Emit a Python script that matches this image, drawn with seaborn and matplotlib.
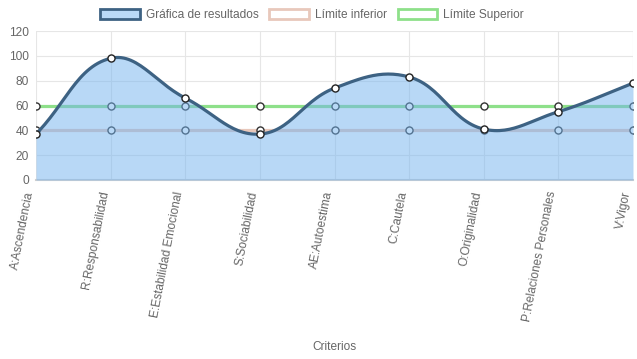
import numpy as np
import pandas as pd
import matplotlib
matplotlib.use("Agg")
import matplotlib.pyplot as plt
from matplotlib.patches import Patch
import seaborn as sns

# datos del grafico
criterios = ["A:Ascendencia", "R:Responsabilidad", "E:Estabilidad Emocional",
             "S:Sociabilidad", "AE:Autoestima", "C:Cautela", "O:Originalidad",
             "P:Relaciones Personales", "V:Vigor"]
resultados = [37, 98, 66, 37, 74, 83, 41, 55, 78]
limite_inferior = [40, 40, 40, 40, 40, 40, 40, 40, 40]
limite_superior = [60, 60, 60, 60, 60, 60, 60, 60, 60]

sns.set_theme(style="white")
plt.rcParams["font.family"] = ["Liberation Sans", "DejaVu Sans"]

GRIS = "#666666"
AZUL_LINEA = "#3d6283"
AZUL_RELLENO = (115/255, 179/255, 239/255, 0.5)
VERDE = "#8ee08a"
ROSA = "#e8c8bb"

fig = plt.figure(figsize=(6.37, 3.59), dpi=100)
ax = fig.add_axes([36/637, 1 - 180/359, (633 - 36)/637, (180 - 31)/359])

x = np.arange(len(criterios))


def curva_suave(xs, ys, tension=0.4, sx=74.6, sy=1.24, n=30):
    # curva tipo Chart.js (bezier con tension), distancias en pixeles
    px = np.array(xs, float) * sx
    py = np.array(ys, float) * sy
    cps = []
    for i in range(len(px)):
        p0 = (px[max(i-1, 0)], py[max(i-1, 0)])
        p1 = (px[i], py[i])
        p2 = (px[min(i+1, len(px)-1)], py[min(i+1, len(px)-1)])
        d01 = np.hypot(p1[0]-p0[0], p1[1]-p0[1])
        d12 = np.hypot(p2[0]-p1[0], p2[1]-p1[1])
        tot = d01 + d12
        s01 = d01/tot if tot else 0
        s12 = d12/tot if tot else 0
        fa, fb = tension*s01, tension*s12
        cps.append(((p1[0]-fa*(p2[0]-p0[0]), p1[1]-fa*(p2[1]-p0[1])),
                    (p1[0]+fb*(p2[0]-p0[0]), p1[1]+fb*(p2[1]-p0[1]))))
    outx, outy = [], []
    t = np.linspace(0, 1, n)
    for i in range(len(px)-1):
        a = (px[i], py[i]); b = cps[i][1]; c = cps[i+1][0]; d = (px[i+1], py[i+1])
        bx = (1-t)**3*a[0] + 3*(1-t)**2*t*b[0] + 3*(1-t)*t**2*c[0] + t**3*d[0]
        by = (1-t)**3*a[1] + 3*(1-t)**2*t*b[1] + 3*(1-t)*t**2*c[1] + t**3*d[1]
        outx.extend(bx / sx); outy.extend(by / sy)
    return np.array(outx), np.array(outy)


# limites (debajo)
df_lim = pd.DataFrame({"x": x, "inf": limite_inferior, "sup": limite_superior})
sns.lineplot(data=df_lim, x="x", y="sup", color=VERDE, lw=2.3, ax=ax, zorder=2)
sns.lineplot(data=df_lim, x="x", y="inf", color=ROSA, lw=2.3, ax=ax, zorder=2)
sns.scatterplot(data=df_lim, x="x", y="sup", color="white", edgecolor="#333333",
                s=26, linewidth=1.0, ax=ax, zorder=3)
sns.scatterplot(data=df_lim, x="x", y="inf", color="white", edgecolor="#333333",
                s=26, linewidth=1.0, ax=ax, zorder=3)

# resultados (encima, con relleno semitransparente)
cx, cy = curva_suave(x, resultados)
ax.fill_between(cx, 0, cy, color=AZUL_RELLENO, lw=0, zorder=4)
df_curva = pd.DataFrame({"x": cx, "y": cy})
sns.lineplot(data=df_curva, x="x", y="y", sort=False, estimator=None,
             color=AZUL_LINEA, lw=2.3, ax=ax, zorder=5)
df_res = pd.DataFrame({"x": x, "y": resultados})
sns.scatterplot(data=df_res, x="x", y="y", color="white", edgecolor="#222222",
                s=26, linewidth=1.0, ax=ax, zorder=6)

ax.set_xlim(0, len(criterios) - 1)
ax.set_ylim(0, 120)
ax.set_yticks(range(0, 121, 20))
ax.set_xticks(x)
ax.set_xticklabels(criterios, rotation=79, ha="right", va="bottom",
                   rotation_mode="anchor")
ax.tick_params(axis="x", colors=GRIS, labelsize=8.6, length=6, width=0.8,
               color="#e0e0e0", pad=3, labelcolor=GRIS)
ax.tick_params(axis="y", colors=GRIS, labelsize=8.6, length=0, pad=5, labelcolor=GRIS)
ax.grid(True, color="#e6e6e6", lw=0.8, zorder=0)
ax.set_axisbelow(True)
for lado in ["top", "right", "left"]:
    ax.spines[lado].set_visible(False)
ax.spines["bottom"].set_color("#d0d0d0")
ax.spines["bottom"].set_linewidth(1.5)
ax.set_ylabel("")
ax.set_xlabel("")
fig.text(334/637, 1 - 347/359, "Criterios", ha="center", va="center",
         color=GRIS, fontsize=8.6)

handles = [Patch(facecolor=(185/255, 217/255, 247/255), edgecolor=AZUL_LINEA, lw=2),
           Patch(facecolor="white", edgecolor=ROSA, lw=2),
           Patch(facecolor="white", edgecolor=VERDE, lw=2)]
fig.legend(handles, ["Gráfica de resultados", "Límite inferior", "Límite Superior"],
           loc="center", bbox_to_anchor=(312/637, 1 - 15/359), ncol=3, frameon=False,
           fontsize=8.6, labelcolor=GRIS, handlelength=3.3, handleheight=0.9,
           handletextpad=0.5, columnspacing=0.9)

fig.savefig("out.png", dpi=100)
